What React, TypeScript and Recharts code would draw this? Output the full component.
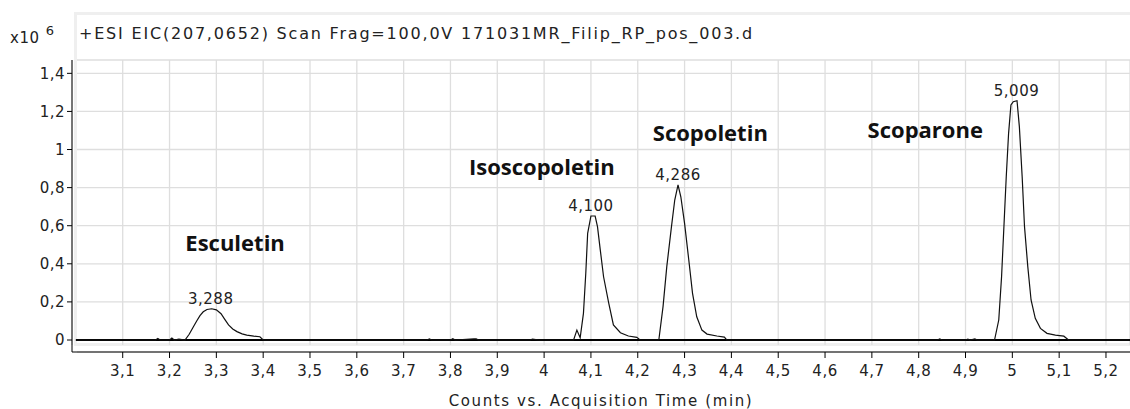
import {
  ComposedChart,
  Line,
  XAxis,
  YAxis,
  CartesianGrid,
  ReferenceLine,
  ReferenceDot,
} from "recharts";

// EIC trace, time in min, intensity in x10^6 counts
const times = [
  3.0, 3.17, 3.175, 3.18, 3.2, 3.205, 3.21, 3.22,
  3.233, 3.242, 3.251, 3.258, 3.265, 3.272, 3.28, 3.29, 3.3, 3.31, 3.318, 3.326,
  3.335, 3.344, 3.355, 3.365, 3.38, 3.393, 3.4,
  3.75, 3.755, 3.76, 3.8, 3.805, 3.81, 3.85, 3.855, 3.86, 3.97, 3.975, 3.99,
  4.063, 4.07, 4.077, 4.084, 4.089, 4.093, 4.1, 4.109, 4.114, 4.12, 4.127,
  4.138, 4.148, 4.163, 4.18, 4.198, 4.205,
  4.245, 4.254, 4.262, 4.272, 4.279, 4.286, 4.292, 4.3, 4.309, 4.317, 4.326,
  4.337, 4.348, 4.369, 4.385, 4.39,
  4.84, 4.845, 4.85, 4.9, 4.905, 4.91, 4.92, 4.925,
  4.962, 4.971, 4.977, 4.982, 4.987, 4.992, 4.997, 5.002, 5.01, 5.015, 5.021,
  5.026, 5.033, 5.04, 5.049, 5.06, 5.074, 5.092, 5.11, 5.12,
  5.26,
];
const counts = [
  0, 0, 0.008, 0, 0, 0.01, 0, 0.005,
  0, 0.03, 0.07, 0.1, 0.128, 0.148, 0.16, 0.164, 0.158, 0.138, 0.108, 0.079,
  0.058, 0.044, 0.032, 0.026, 0.02, 0.017, 0,
  0, 0.006, 0, 0, 0.007, 0, 0.006, 0.006, 0, 0, 0.005, 0,
  0, 0.052, 0.012, 0.14, 0.35, 0.56, 0.651, 0.651, 0.595, 0.472, 0.332,
  0.193, 0.079, 0.038, 0.021, 0.014, 0,
  0, 0.175, 0.385, 0.595, 0.735, 0.814, 0.752, 0.612, 0.42, 0.245, 0.122,
  0.052, 0.031, 0.021, 0.015, 0,
  0, 0.006, 0, 0, 0.005, 0, 0.006, 0,
  0, 0.105, 0.332, 0.595, 0.857, 1.085, 1.234, 1.251, 1.256, 1.12, 0.857,
  0.595, 0.385, 0.21, 0.114, 0.061, 0.035, 0.026, 0.02, 0,
  0,
];

const xTicks = [
  3.1, 3.2, 3.3, 3.4, 3.5, 3.6, 3.7, 3.8, 3.9, 4, 4.1,
  4.2, 4.3, 4.4, 4.5, 4.6, 4.7, 4.8, 4.9, 5, 5.1, 5.2,
];
const yTicks = [0, 0.2, 0.4, 0.6, 0.8, 1, 1.2, 1.4];

const peakTimes = [3.288, 4.1, 4.286, 5.009];
const peakTops = [0.164, 0.651, 0.814, 1.256];
const peakLabels = ["3,288", "4,100", "4,286", "5,009"];

const compounds = ["Esculetin", "Isoscopoletin", "Scopoletin", "Scoparone"];
const compoundTimes = [3.34, 3.995, 4.355, 4.814];
const compoundLevels = [0.509, 0.908, 1.087, 1.102];

const data = times.map((t, i) => ({ t, y: counts[i] }));

const X_MIN = 2.9917;
const X_MAX = 5.2513;
const Y_MIN = -0.063;
const Y_MAX = 1.47;

const sysFont = "'DejaVu Sans', sans-serif";
const fmt = (v: number) => String(Math.round(v * 10) / 10).replace(".", ",");

export default function App() {
  return (
    <div style={{ position: "relative", width: 1130, height: 409, background: "#fff", overflow: "hidden" }}>
      <style>{`body{margin:0}`}</style>
      {/* grey plot frame */}
      <div
        style={{
          position: "absolute",
          left: 74,
          top: 12,
          width: 1100,
          height: 328,
          border: "3px solid #efefef",
        }}
      />
      <div
        style={{
          position: "absolute",
          left: 10,
          top: 25,
          fontFamily: sysFont,
          fontSize: 15,
          color: "#222",
          letterSpacing: 0.6,
        }}
      >
        x10<sup style={{ fontSize: 13, marginLeft: 6, position: "relative", top: -2 }}>6</sup>
      </div>
      <div
        style={{
          position: "absolute",
          left: 79,
          top: 24,
          fontFamily: sysFont,
          fontSize: 16,
          color: "#222",
          letterSpacing: 1.8,
          whiteSpace: "nowrap",
        }}
      >
        +ESI EIC(207,0652) Scan Frag=100,0V 171031MR_Filip_RP_pos_003.d
      </div>
      <ComposedChart
        width={1130}
        height={409}
        data={data}
        margin={{ top: 60, right: 0, bottom: 0, left: 0 }}
        style={{ position: "absolute", left: 0, top: 0 }}
      >
        <CartesianGrid stroke="#dedede" strokeWidth={1.3} x={77} y={60} width={1053} height={285} />
        <XAxis
          type="number"
          dataKey="t"
          domain={[X_MIN, X_MAX]}
          allowDataOverflow
          ticks={xTicks}
          tickFormatter={fmt}
          height={57}
          tickSize={6}
          tickMargin={7}
          stroke="#000"
          tick={{ fill: "#222", fontSize: 15, fontFamily: sysFont, letterSpacing: 0.5 }}
          label={{
            value: "Counts vs. Acquisition Time (min)",
            position: "insideBottom",
            offset: 3,
            fill: "#222",
            fontSize: 15,
            fontFamily: sysFont,
            letterSpacing: 1.6,
          }}
        />
        <YAxis
          type="number"
          domain={[Y_MIN, Y_MAX]}
          allowDataOverflow
          ticks={yTicks}
          tickFormatter={fmt}
          width={72}
          tickSize={5}
          tickMargin={2}
          stroke="#000"
          tick={{ fill: "#222", fontSize: 15, fontFamily: sysFont, letterSpacing: 0.5 }}
        />
        <ReferenceLine
          segment={[{ x: 3.0, y: 0 }, { x: X_MAX, y: 0 }]}
          stroke="#000"
          strokeWidth={2}
        />
        <Line
          type="linear"
          dataKey="y"
          stroke="#111"
          strokeWidth={1.2}
          dot={false}
          isAnimationActive={false}
        />
        {peakTimes.map((t, i) => (
          <ReferenceDot
            key={peakLabels[i]}
            x={t}
            y={peakTops[i]}
            r={0}
            fill="none"
            stroke="none"
            label={{
              value: peakLabels[i],
              position: "top",
              offset: 5,
              fill: "#222",
              fontSize: 15,
              fontFamily: sysFont,
              letterSpacing: 0.5,
            }}
          />
        ))}
        {compounds.map((name, i) => (
          <ReferenceDot
            key={name}
            x={compoundTimes[i]}
            y={compoundLevels[i]}
            r={0}
            fill="none"
            stroke="none"
            label={{
              value: name,
              position: "center",
              fill: "#111",
              fontSize: 22,
              fontWeight: 700,
              fontFamily: "'Open Sans', sans-serif",
            }}
          />
        ))}
      </ComposedChart>
    </div>
  );
}
